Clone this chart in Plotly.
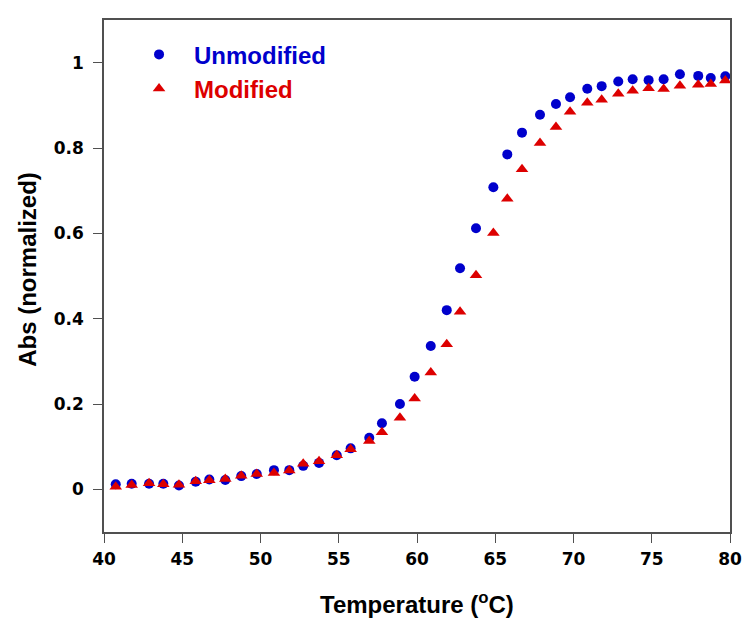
import plotly.graph_objects as go

temperature = [40.75, 41.77, 42.88, 43.79, 44.79, 45.86, 46.73, 47.75, 48.77, 49.76,
               50.86, 51.84, 52.73, 53.74, 54.87, 55.76, 56.95, 57.76, 58.91, 59.85,
               60.88, 61.90, 62.75, 63.77, 64.88, 65.77, 66.71, 67.86, 68.88, 69.78,
               70.88, 71.80, 72.86, 73.78, 74.80, 75.76, 76.80, 77.97, 78.77, 79.70]

unmodified = [0.012, 0.013, 0.013, 0.013, 0.009, 0.018, 0.023, 0.022, 0.031, 0.036,
              0.045, 0.045, 0.055, 0.062, 0.080, 0.096, 0.121, 0.155, 0.200, 0.264,
              0.336, 0.420, 0.518, 0.612, 0.708, 0.785, 0.836, 0.878, 0.903, 0.919,
              0.939, 0.945, 0.956, 0.961, 0.959, 0.961, 0.973, 0.969, 0.964, 0.968]

modified = [0.006, 0.010, 0.014, 0.012, 0.011, 0.019, 0.021, 0.024, 0.032, 0.036,
            0.038, 0.044, 0.060, 0.066, 0.080, 0.094, 0.113, 0.134, 0.168, 0.213,
            0.274, 0.340, 0.416, 0.502, 0.601, 0.681, 0.750, 0.812, 0.849, 0.885,
            0.906, 0.913, 0.927, 0.934, 0.940, 0.938, 0.946, 0.948, 0.950, 0.958]

y_ticks = [0, 0.2, 0.4, 0.6, 0.8, 1]
y_tick_labels = ["0", "0.2", "0.4", "0.6", "0.8", "1"]
x_ticks = [40, 45, 50, 55, 60, 65, 70, 75, 80]

x_title = "Temperature (<sup>o</sup>C)"
y_title = "Abs (normalized)"

BLUE = "#0000cc"
RED = "#dd0000"
FONT = "Liberation Sans, Arial, sans-serif"
TICKFONT = "DejaVu Sans, sans-serif"

fig = go.Figure()
fig.add_trace(go.Scatter(
    x=temperature, y=unmodified, mode="markers",
    name="<b><span style='color:%s'>Unmodified</span></b>" % BLUE,
    marker=dict(symbol="circle", size=10, color=BLUE),
))
fig.add_trace(go.Scatter(
    x=temperature, y=modified, mode="markers",
    name="<b><span style='color:%s'>Modified</span></b>" % RED,
    marker=dict(symbol="triangle-up", size=11, color=RED),
))

axis_common = dict(
    showgrid=False, zeroline=False, showline=True, linecolor="#505050",
    linewidth=1.5, mirror=True, ticks="outside", ticklen=9, tickwidth=1,
    tickcolor="#505050", automargin=False,
    tickfont=dict(family=TICKFONT, size=17, color="black", weight="bold"),
)

# page body has an 8px default margin, so the figure is sized to fit the window
fig.update_layout(
    width=742, height=631,
    margin=dict(l=96, r=20, t=12, b=107),
    paper_bgcolor="white", plot_bgcolor="white",
    font=dict(family=FONT, color="black"),
    xaxis=dict(range=[40, 80], tickvals=x_ticks, ticklabelstandoff=2, **axis_common),
    yaxis=dict(range=[-0.1, 1.1], tickvals=y_ticks, ticktext=y_tick_labels,
               ticklabelstandoff=6, **axis_common),
    legend=dict(x=0.032, y=0.976, xanchor="left", yanchor="top",
                bgcolor="rgba(0,0,0,0)",
                font=dict(family=FONT, size=24),
                itemwidth=60, tracegroupgap=0),
    showlegend=True,
    annotations=[
        dict(text="<b>%s</b>" % x_title, xref="paper", yref="paper",
             x=0.5, y=-0.139, xanchor="center", yanchor="middle",
             showarrow=False, font=dict(family=FONT, size=24, color="black")),
        dict(text="<b>%s</b>" % y_title, xref="paper", yref="paper",
             x=-0.1214, y=0.512, xanchor="center", yanchor="middle", textangle=-90,
             showarrow=False, font=dict(family=FONT, size=24, color="black")),
    ],
)

fig.write_html("out.html")
